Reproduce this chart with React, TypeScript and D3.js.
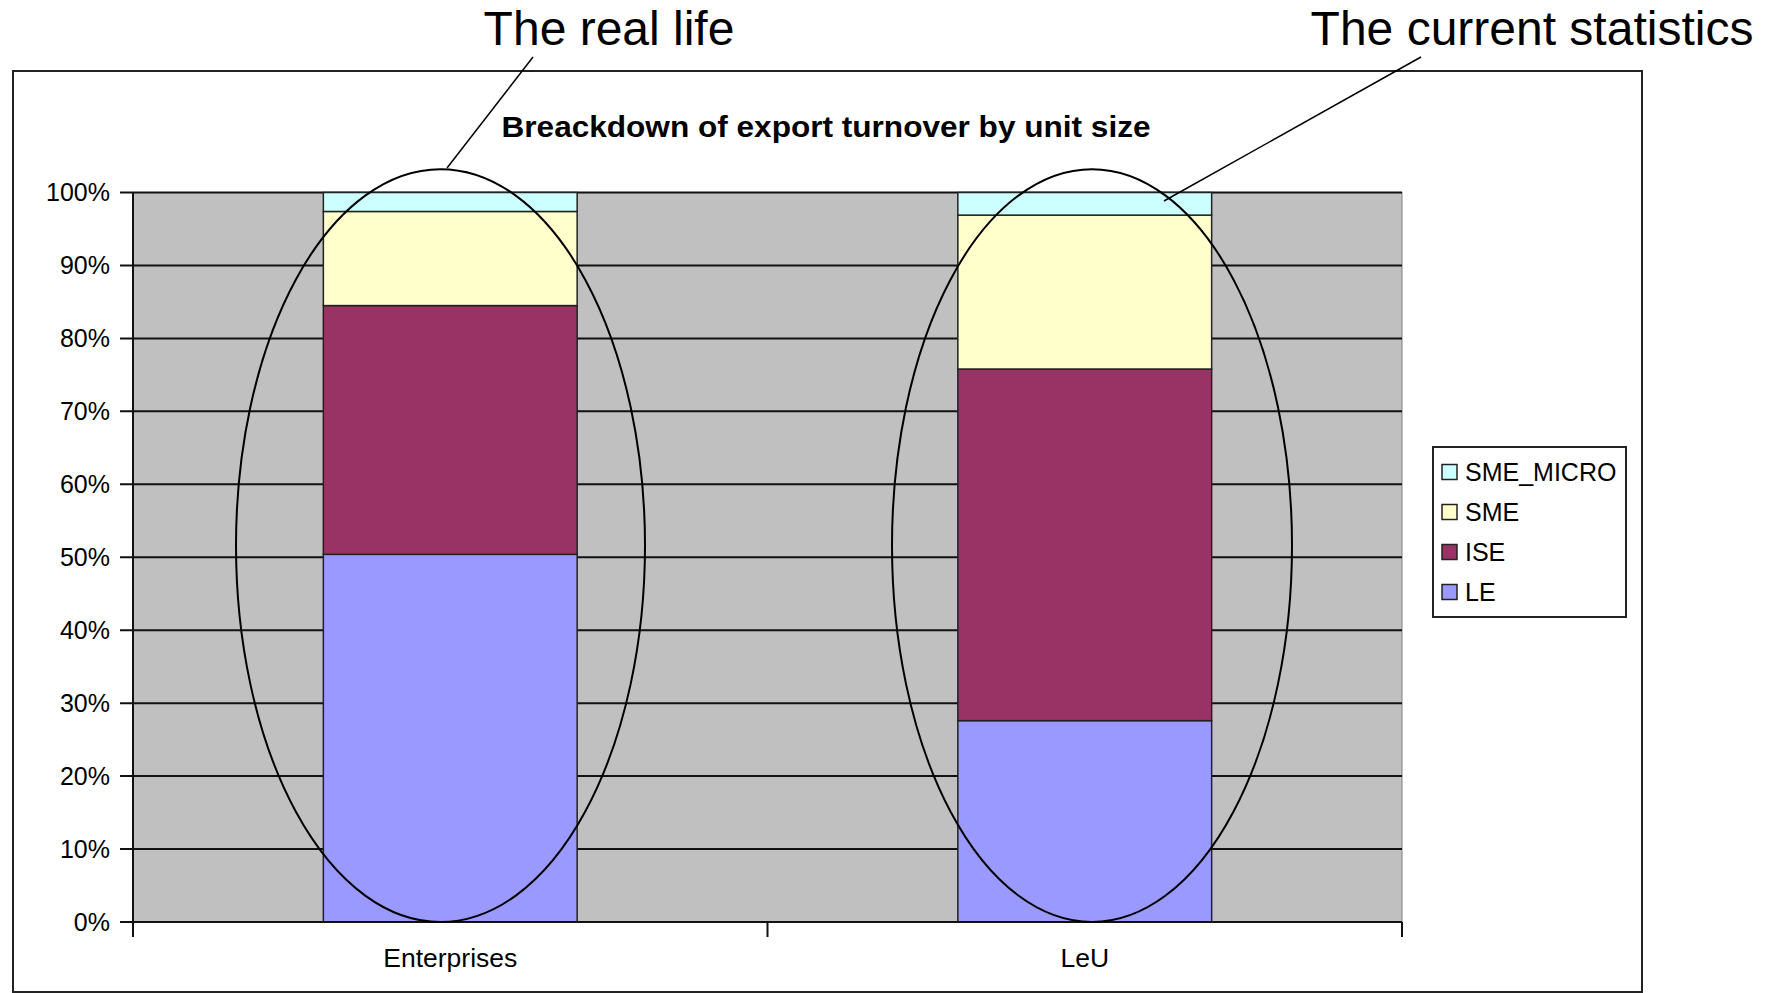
import React from "react";
import * as d3 from "d3";

const categories = ["Enterprises", "LeU"];
const seriesKeys = ["LE", "ISE", "SME", "SME_MICRO"];
const LE = [50.4, 27.6];
const ISE = [34.1, 48.2];
const SME = [12.9, 21.1];
const SME_MICRO = [2.6, 3.1];
const yTicks = [0, 10, 20, 30, 40, 50, 60, 70, 80, 90, 100];
const legendOrder = ["SME_MICRO", "SME", "ISE", "LE"];
const colors: Record<string, string> = {
  LE: "#9999FF",
  ISE: "#993366",
  SME: "#FFFFCC",
  SME_MICRO: "#CCFFFF",
};
const title = "Breackdown of export turnover by unit size";
const annotations = [
  { text: "The real life", cx: 440.5, rx: 204.5, tx: 609, lx1: 533, ly1: 57, lx2: 447, ly2: 168 },
  { text: "The current statistics", cx: 1092, rx: 200, tx: 1532, lx1: 1421, ly1: 57, lx2: 1164, ly2: 201 },
];

const W = 1770;
const H = 993;
const plot = { left: 133, right: 1402, top: 192.5, bottom: 922 };
const FONT = "'Liberation Sans', Arial, sans-serif";

export default function App() {
  const rows = categories.map((c, i) => ({
    cat: c,
    LE: LE[i],
    ISE: ISE[i],
    SME: SME[i],
    SME_MICRO: SME_MICRO[i],
  }));
  const stacked = d3.stack<any>().keys(seriesKeys)(rows);
  const x = d3
    .scaleBand<string>()
    .domain(categories)
    .range([plot.left, plot.right])
    .paddingInner(0.6)
    .paddingOuter(0.3);
  const y = d3.scaleLinear().domain([0, 100]).range([plot.bottom, plot.top]);
  const step = x.step();
  const catTicks = [plot.left, plot.left + step, plot.left + 2 * step];

  return (
    <svg
      width={W}
      height={H}
      style={{ position: "fixed", left: 0, top: 0, background: "#fff" }}
      fontFamily={FONT}
    >
      <rect x={0} y={0} width={W} height={H} fill="#fff" />
      {/* chart frame */}
      <rect x={13} y={71} width={1629} height={921} fill="#fff" stroke="#222" strokeWidth={2} />
      {/* title */}
      <text
        x={826}
        y={137}
        textAnchor="middle"
        fontSize={29}
        fontWeight="bold"
        fill="#000"
        textLength={649}
        lengthAdjust="spacingAndGlyphs"
      >
        {title}
      </text>
      {/* plot area */}
      <rect
        x={plot.left}
        y={plot.top}
        width={plot.right - plot.left}
        height={plot.bottom - plot.top}
        fill="#C0C0C0"
        stroke="#808080"
        strokeWidth={1}
      />
      {yTicks.map((t) => (
        <g key={t}>
          <line x1={plot.left - 13} x2={plot.right} y1={y(t)} y2={y(t)} stroke="#111" strokeWidth={2} />
          <text x={110} y={y(t)} dy="0.35em" textAnchor="end" fontSize={25} fill="#000">
            {t + "%"}
          </text>
        </g>
      ))}
      {/* bars */}
      {stacked.map((s) => (
        <g key={s.key}>
          {s.map((d, i) => (
            <rect
              key={i}
              x={x(categories[i])!}
              y={y(d[1])}
              width={x.bandwidth()}
              height={y(d[0]) - y(d[1])}
              fill={colors[s.key]}
              stroke="#222"
              strokeWidth={1.5}
            />
          ))}
        </g>
      ))}
      {/* axes */}
      <line x1={plot.left} x2={plot.left} y1={plot.top} y2={plot.bottom} stroke="#111" strokeWidth={2} />
      <line x1={plot.left} x2={plot.right} y1={plot.bottom} y2={plot.bottom} stroke="#111" strokeWidth={2} />
      {catTicks.map((t, i) => (
        <line key={i} x1={t} x2={t} y1={plot.bottom} y2={plot.bottom + 15} stroke="#111" strokeWidth={2} />
      ))}
      {categories.map((c) => (
        <text
          key={c}
          x={x(c)! + x.bandwidth() / 2}
          y={967}
          textAnchor="middle"
          fontSize={26.5}
          fill="#000"
        >
          {c}
        </text>
      ))}
      {/* legend */}
      <rect x={1433} y={447} width={193} height={170} fill="#fff" stroke="#222" strokeWidth={2} />
      {legendOrder.map((k, i) => {
        const cy = 472 + i * 40;
        return (
          <g key={k}>
            <rect x={1442} y={cy - 7.5} width={15} height={15} fill={colors[k]} stroke="#222" strokeWidth={1.5} />
            <text x={1465} y={cy} dy="0.36em" fontSize={25} fill="#000">
              {k}
            </text>
          </g>
        );
      })}
      {/* annotations */}
      {annotations.map((a, i) => {
        const top = y(103.2);
        const bottom = y(0);
        return (
          <g key={i}>
            <ellipse
              cx={a.cx}
              cy={(top + bottom) / 2}
              rx={a.rx}
              ry={(bottom - top) / 2}
              fill="none"
              stroke="#000"
              strokeWidth={2}
            />
            <line x1={a.lx1} y1={a.ly1} x2={a.lx2} y2={a.ly2} stroke="#000" strokeWidth={1.5} />
            <text x={a.tx} y={45} textAnchor="middle" fontSize={48} fill="#000">
              {a.text}
            </text>
          </g>
        );
      })}
    </svg>
  );
}
